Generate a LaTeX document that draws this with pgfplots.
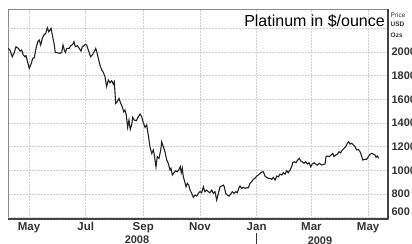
\documentclass[border=0pt]{standalone}
\usepackage{pgfplots}
\pgfplotsset{compat=1.18}
\usepackage{fontspec}
\setmainfont{Liberation Sans}
\definecolor{lineC}{HTML}{222222}
\definecolor{gridC}{HTML}{CFCFCF}
\definecolor{tickC}{HTML}{333333}
\definecolor{frameL}{HTML}{8A8A8A}
\definecolor{frameD}{HTML}{444444}
\begin{document}
\begin{tikzpicture}[x=1bp,y=1bp]
\begin{axis}[
  at={(0,0)}, anchor=south west,
  scale only axis, width=380bp, height=210bp,
  xmin=-22.6, xmax=386.4, ymin=588, ymax=2364,
  axis line style={draw=frameL, line width=0.8bp},
  xtick={0,61,123,184,245,304,365},
  xticklabels={May,Jul,Sep,Nov,Jan,Mar,May},
  ytick={800,1000,...,2000},
  extra y ticks={600,2200},
  extra y tick labels={600,},
  extra y tick style={grid=major, yticklabel style={yshift=5.5bp}},
  yticklabel pos=right,
  major tick length=0pt,
  grid=major,
  major grid style={draw=gridC, dash pattern=on 2bp off 1bp, line width=0.6bp},
  tick label style={font=\fontsize{11bp}{13bp}\selectfont\bfseries, text=tickC},
  xticklabel style={font=\fontsize{11.5bp}{13bp}\selectfont\bfseries},
  /pgf/number format/assume math mode=true,
  /pgf/number format/1000 sep={},
]
\addplot[lineC, line width=1.1bp] table {
x y
-22.3 2031
-20.5 2017
-18.0 1960
-15.8 1997
-14.0 2045
-11.5 2031
-9.7 2008
-7.9 2017
-6.1 1975
-4.3 1960
-3.2 1969
-1.8 1924
0.3 1862
2.5 1904
4.0 1947
5.7 1952
7.5 2031
9.4 2087
11.1 2101
12.6 2059
14.3 2116
16.1 2144
18.0 2158
19.7 2206
21.2 2172
22.6 2186
23.7 2200
25.1 2144
26.9 2074
28.3 1997
30.5 1994
33.4 1989
35.2 1997
36.6 2059
38.0 2017
39.1 1997
40.6 2031
43.1 2031
44.9 2053
47.0 2065
48.4 2087
49.8 2045
52.0 2053
54.1 2031
56.0 2008
57.4 2045
59.2 2053
60.6 2065
62.1 2059
63.8 2017
66.4 1960
68.6 1981
70.0 2003
71.8 2031
72.9 2003
74.6 1947
76.4 1890
78.3 1848
80.0 1828
81.8 1791
83.6 1707
85.4 1763
87.2 1740
89.0 1757
90.7 1729
91.8 1749
93.3 1566
95.0 1580
96.9 1608
98.7 1566
100.4 1537
101.9 1495
103.3 1509
104.7 1467
106.2 1363
107.6 1425
109.0 1346
110.5 1383
111.6 1448
113.3 1425
115.5 1419
117.7 1453
119.5 1476
121.3 1453
123.0 1402
124.9 1363
126.7 1383
128.4 1298
130.2 1199
132.1 1143
133.8 1171
134.9 1129
136.7 1030
138.1 1115
139.9 1101
141.8 1171
142.8 1241
144.6 1199
146.4 1157
148.2 1087
149.9 1059
151.8 1002
152.8 1016
154.3 960
156.1 979
157.9 996
159.6 987
161.5 1008
162.9 1030
163.9 979
165.0 1016
166.1 945
167.6 903
169.0 861
170.4 890
171.9 875
173.3 833
175.1 805
176.9 771
178.7 791
180.5 782
182.2 805
184.1 819
185.9 810
187.6 861
189.4 819
191.3 833
193.0 819
194.8 810
196.7 833
198.4 805
200.2 819
202.0 748
203.8 805
205.6 861
207.4 867
209.1 875
210.2 861
211.7 805
213.4 791
215.3 782
217.1 799
218.8 819
220.7 805
222.5 819
224.2 810
225.7 847
227.1 867
229.0 847
230.7 856
232.5 847
234.3 852
236.1 852
237.9 890
239.7 903
241.4 923
243.2 932
245.1 951
246.8 960
248.6 974
250.5 985
252.2 988
254.0 951
255.9 940
257.6 932
259.4 932
261.2 923
263.0 940
264.8 917
266.6 951
268.4 945
270.2 968
272.0 960
273.7 979
275.6 968
277.4 996
279.1 979
280.9 1002
282.8 1030
283.8 1064
285.6 1072
287.4 1064
289.2 1087
291.0 1101
292.5 1078
294.2 1072
296.0 1059
297.8 1072
299.6 1053
301.4 1064
303.2 1030
304.9 1053
306.8 1064
308.6 1053
310.3 1044
312.5 1059
315.1 1044
316.8 1050
318.6 1053
319.7 1115
321.5 1121
323.2 1115
325.1 1129
326.9 1143
328.3 1115
330.1 1129
331.9 1137
333.7 1157
335.5 1148
337.2 1171
339.1 1186
340.9 1199
342.6 1228
344.1 1241
345.5 1222
347.4 1228
349.1 1214
350.9 1199
352.8 1171
354.5 1177
356.3 1157
358.2 1115
359.2 1087
361.7 1093
363.5 1093
365.2 1115
367.1 1135
368.9 1143
370.6 1137
372.4 1129
373.5 1110
374.9 1121
376.4 1101
};
\end{axis}
\draw[frameD, line width=1.3bp] (0,0) -- (380,0);
\draw[frameD, line width=1.1bp] (380,0) -- (380,210);
\node[anchor=base east, inner sep=0pt, font=\fontsize{16bp}{18bp}\selectfont] at (377,193) {Platinum in \$/ounce};
\node[anchor=west, inner sep=0pt, text=tickC, font=\fontsize{6.5bp}{7bp}\selectfont] at (382.5,204) {Price};
\node[anchor=west, inner sep=0pt, text=tickC, font=\fontsize{6.5bp}{7bp}\selectfont\bfseries] at (382.5,194.5) {USD};
\node[anchor=west, inner sep=0pt, text=tickC, font=\fontsize{6.5bp}{7bp}\selectfont\bfseries] at (382.5,184) {Ozs};
\node[inner sep=0pt, text=tickC, font=\fontsize{11bp}{13bp}\selectfont\bfseries] at (129,-21) {2008};
\node[inner sep=0pt, text=tickC, font=\fontsize{11bp}{13bp}\selectfont\bfseries] at (312,-22) {2009};
\draw[tickC, line width=1.2bp] (248.7,-14) -- (248.7,-25);
\pgfresetboundingbox
\path[use as bounding box] (-8,-25) rectangle (404,219);
\end{tikzpicture}
\end{document}
